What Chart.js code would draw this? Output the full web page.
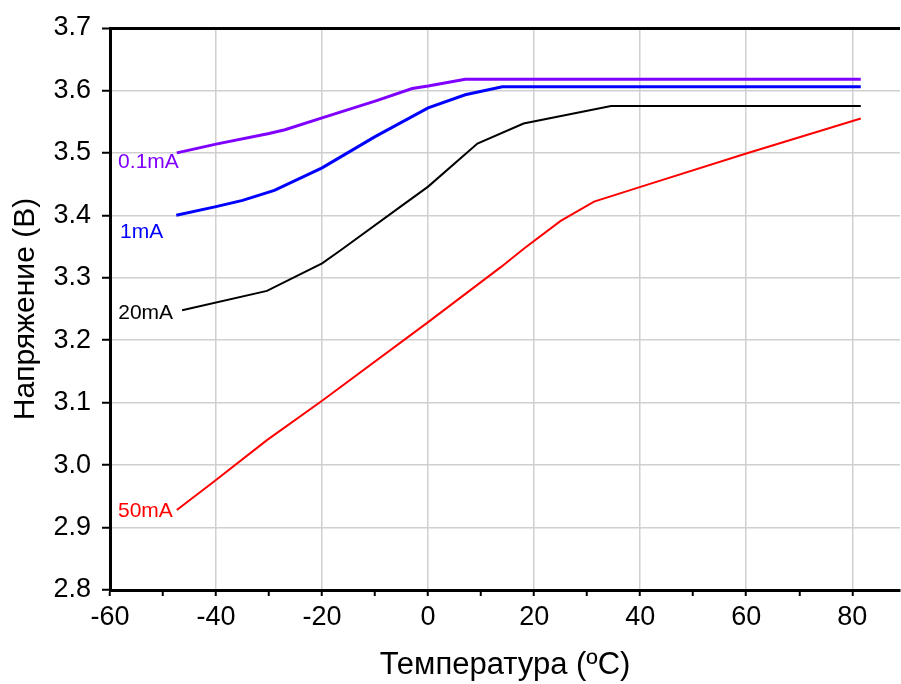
<!DOCTYPE html>
<html>
<head>
<meta charset="utf-8">
<script src="https://cdn.jsdelivr.net/npm/chart.js@4"></script>
<style>
  html, body { margin: 0; padding: 0; background: #fff; overflow: hidden; }
  #wrap { width: 901px; height: 684px; }
</style>
</head>
<body>
<div id="wrap"><canvas id="voltageChart"></canvas></div>
<script>
// values: temperature (ºC) -> voltage (B)
const seriesNames = ['0.1mA', '1mA', '20mA', '50mA'];

const temps01 = [-47.4, -40, -30, -27, -20, -10, -3, 0, 7, 81.6];
const volts01 = [3.500, 3.514, 3.531, 3.537, 3.556, 3.583, 3.603, 3.607, 3.618, 3.618];

const temps1 = [-47.5, -40, -35, -29, -20, -10, 0, 7, 14, 81.6];
const volts1 = [3.400, 3.414, 3.424, 3.440, 3.476, 3.526, 3.572, 3.593, 3.606, 3.606];

const temps20 = [-46.4, -30.4, -20, -16.5, -5.2, 0, 9.3, 18, 34.5, 81.6];
const volts20 = [3.248, 3.279, 3.323, 3.344, 3.414, 3.446, 3.515, 3.547, 3.575, 3.575];

const temps50 = [-47.4, -40.5, -30.4, -20, 0, 13.7, 18.1, 25, 31.3, 40.2, 60, 81.6];
const volts50 = [2.928, 2.973, 3.040, 3.103, 3.229, 3.317, 3.347, 3.391, 3.422, 3.446, 3.499, 3.555];

const xTicks = [-60, -40, -20, 0, 20, 40, 60, 80];

const colors = ['#8000ff', '#0000ff', '#000000', '#ff0000'];
const widths = [3, 3, 2, 2];
// where each curve's name sits relative to its first point (px)
const labelOffsets = [[2, 9], [-13, 17], [-9, 3], [-4, 1]];

const FONT = "'Liberation Sans', Arial, sans-serif";

const toPoints = (t, v) => t.map((x, i) => ({ x: x, y: v[i] }));

const curveLabels = {
  id: 'curveLabels',
  afterDatasetsDraw(chart) {
    const ctx = chart.ctx;
    ctx.save();
    ctx.font = '21px ' + FONT;
    ctx.textAlign = 'right';
    ctx.textBaseline = 'middle';
    chart.data.datasets.forEach((ds, i) => {
      const p = chart.getDatasetMeta(i).data[0];
      ctx.fillStyle = ds.borderColor;
      ctx.fillText(ds.label, p.x + labelOffsets[i][0], p.y + labelOffsets[i][1]);
    });
    ctx.restore();
  }
};

const near = (a, b) => Math.abs(a - b) < 1e-6;

new Chart(document.getElementById('voltageChart').getContext('2d'), {
  type: 'line',
  data: {
    datasets: [
      toPoints(temps01, volts01),
      toPoints(temps1, volts1),
      toPoints(temps20, volts20),
      toPoints(temps50, volts50)
    ].map((pts, i) => ({
      label: seriesNames[i],
      data: pts,
      borderColor: colors[i],
      borderWidth: widths[i],
      pointRadius: 0,
      tension: 0,
      fill: false
    }))
  },
  options: {
    responsive: true,
    maintainAspectRatio: false,
    animation: false,
    layout: { padding: { top: 28, right: 1, left: 0, bottom: 0 } },
    plugins: {
      legend: { display: false },
      tooltip: { enabled: false }
    },
    scales: {
      x: {
        type: 'linear',
        min: -60,
        max: 89,
        afterBuildTicks: (scale) => {
          scale.ticks = scale.ticks.filter(t => near(t.value / 10, Math.round(t.value / 10)));
        },
        afterFit: (scale) => { scale.height = 94; },
        ticks: {
          stepSize: 10,
          color: '#000',
          font: { family: FONT, size: 27 },
          padding: 5,
          maxRotation: 0,
          autoSkip: false,
          callback: (v) => xTicks.includes(Math.round(v)) ? String(Math.round(v)) : ''
        },
        grid: {
          color: (c) => xTicks.includes(Math.round(c.tick.value)) ? '#d0d0d0' : 'rgba(0,0,0,0)',
          lineWidth: 1.5,
          tickColor: '#000',
          tickWidth: 2,
          tickLength: 6
        },
        border: { color: '#000', width: 3 },
        title: {
          display: true,
          text: 'Температура (ºC)',
          color: '#000',
          font: { family: FONT, size: 31 },
          padding: { top: 4, bottom: 0 }
        }
      },
      y: {
        min: 2.8,
        max: 3.7,
        afterFit: (scale) => { scale.width = 110; },
        ticks: {
          stepSize: 0.1,
          color: '#000',
          font: { family: FONT, size: 27 },
          padding: 11,
          callback: (v) => v.toFixed(1)
        },
        grid: {
          color: (c) => near(c.tick.value, 3.7) ? '#000' : '#d0d0d0',
          lineWidth: (c) => near(c.tick.value, 3.7) ? 3 : 1.5,
          tickColor: '#000',
          tickWidth: 2,
          tickLength: 8
        },
        border: { color: '#000', width: 3 },
        title: {
          display: true,
          text: 'Напряжение (B)',
          color: '#000',
          font: { family: FONT, size: 30 },
          padding: { top: 8, bottom: 0 }
        }
      }
    }
  },
  plugins: [curveLabels]
});
</script>
</body>
</html>
